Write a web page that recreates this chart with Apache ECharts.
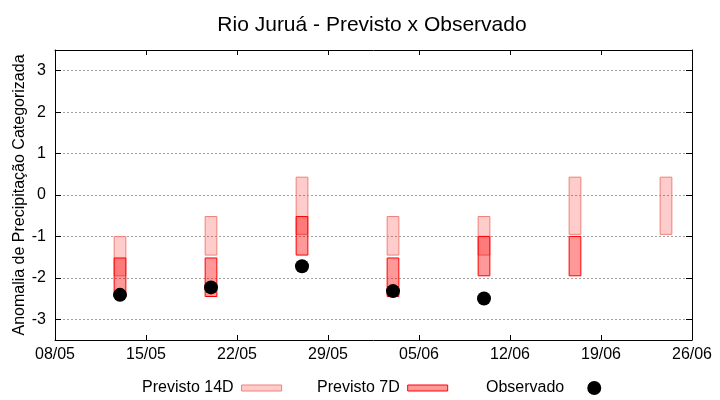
<!DOCTYPE html>
<html>
<head>
<meta charset="utf-8">
<script src="https://cdn.jsdelivr.net/npm/echarts@6/dist/echarts.min.js"></script>
<style>html,body{margin:0;padding:0;background:#fff}#c{width:720px;height:400px}</style>
</head>
<body>
<div id="c"></div>
<script>
// ---- data ----
const dates = ['2024-05-13','2024-05-20','2024-05-27','2024-06-03','2024-06-10','2024-06-17','2024-06-24'];
const p14Low  = [-1.95, -1.45, -0.95, -1.45, -1.45, -0.95, -0.95];
const p14High = [-1.00, -0.52,  0.43, -0.52, -0.52,  0.43,  0.43];
const p7Low   = [-2.45, -2.45, -1.45, -2.45, -1.95, -1.95, null];
const p7High  = [-1.52, -1.52, -0.52, -1.52, -1.00, -1.00, null];
const observed = [-2.41, -2.23, -1.72, -2.32, -2.50, null, null];
const axisStart = '2024-05-08';
const axisEnd = '2024-06-26';

const DAY = 86400000;
function parseDate(s){ const p = s.split('-').map(Number); return Date.UTC(p[0], p[1]-1, p[2]); }
const base = parseDate(axisStart);
const xs = dates.map(d => (parseDate(d) - base) / DAY);
const xMax = (parseDate(axisEnd) - base) / DAY;

function pad(n){ return (n < 10 ? '0' : '') + n; }
function fmtX(v){ const d = new Date(base + v * DAY); return pad(d.getUTCDate()) + '/' + pad(d.getUTCMonth() + 1); }

function boxData(lo, hi){
  const out = [];
  xs.forEach((x, i) => { if (lo[i] != null && hi[i] != null) out.push([x, lo[i], hi[i]]); });
  return out;
}
function boxRenderer(fill, stroke){
  return function(params, api){
    const x = api.value(0), lo = api.value(1), hi = api.value(2);
    const pt = api.coord([x, hi]);
    const pb = api.coord([x, lo]);
    const w = api.size([0.9, 0])[0];
    return {
      type: 'rect',
      shape: { x: pt[0] - w / 2, y: pt[1], width: w, height: pb[1] - pt[1] },
      style: { fill: fill, stroke: stroke, lineWidth: 1 }
    };
  };
}

const FILL14 = 'rgba(255,0,0,0.2)', STROKE14 = '#f08078';
const FILL7 = 'rgba(255,0,0,0.4)', STROKE7 = '#ff0000';
const FONT = 'Liberation Sans, Arial, sans-serif';

const obsData = [];
xs.forEach((x, i) => { if (observed[i] != null) obsData.push([x, observed[i]]); });

const chart = echarts.init(document.getElementById('c'), null, { renderer: 'canvas' });
const yCommon = { type: 'value', min: -3.5, max: 3.5, splitNumber: 7 };
const legendText = { fontFamily: FONT, fontSize: 16, color: '#000' };
chart.setOption({
  animation: false,
  backgroundColor: '#fff',
  title: {
    text: 'Rio Juruá - Previsto x Observado',
    left: 372, top: 15, textAlign: 'center', padding: 0,
    textStyle: { fontFamily: FONT, fontSize: 21, fontWeight: 'normal', color: '#000' }
  },
  grid: { left: 55, right: 28, top: 50, bottom: 60, containLabel: false, outerBoundsMode: 'none' },
  legend: [
    { data: [{ name: 'Previsto 14D', icon: 'rect', itemStyle: { color: FILL14, borderColor: STROKE14, borderWidth: 1 } }],
      left: 142, top: 380, padding: 0, itemWidth: 40, itemHeight: 6, align: 'right', selectedMode: false,
      textStyle: Object.assign({ padding: [0, 3, 0, 0] }, legendText) },
    { data: [{ name: 'Previsto 7D', icon: 'rect', itemStyle: { color: FILL7, borderColor: STROKE7, borderWidth: 1 } }],
      left: 317, top: 380, padding: 0, itemWidth: 40, itemHeight: 6, align: 'right', selectedMode: false,
      textStyle: Object.assign({ padding: [0, 3, 0, 0] }, legendText) },
    { data: [{ name: 'Observado', icon: 'circle', itemStyle: { color: '#000', opacity: 1 } }],
      left: 486, top: 380, padding: 0, itemWidth: 14, itemHeight: 14, align: 'right', selectedMode: false,
      textStyle: Object.assign({ padding: [0, 18, 0, 0] }, legendText) }
  ],
  xAxis: [
    { type: 'value', min: 0, max: xMax, interval: 7, position: 'bottom',
      axisLine: { show: true, onZero: false, lineStyle: { color: '#000', width: 1 } },
      axisTick: { show: true, inside: true, length: 5, lineStyle: { color: '#000' } },
      axisLabel: { formatter: fmtX, fontFamily: FONT, fontSize: 16, color: '#000', margin: 7, showMinLabel: true, showMaxLabel: true },
      splitLine: { show: false } },
    { type: 'value', min: 0, max: xMax, interval: 7, position: 'top',
      axisLine: { show: true, onZero: false, lineStyle: { color: '#000', width: 1 } },
      axisTick: { show: true, inside: true, length: 5, lineStyle: { color: '#000' } },
      axisLabel: { show: false }, splitLine: { show: false } }
  ],
  yAxis: [
    Object.assign({}, yCommon, {
      position: 'left',
      name: 'Anomalia de Precipitação Categorizada', nameLocation: 'middle', nameGap: 27,
      nameMoveOverlap: false,
      nameTextStyle: { fontFamily: FONT, fontSize: 16, color: '#000' },
      axisLine: { show: true, onZero: false, lineStyle: { color: '#000', width: 1 } },
      axisTick: { show: true, inside: true, length: 6, lineStyle: { color: '#000' } },
      axisLabel: { fontFamily: FONT, fontSize: 16, color: '#000', margin: 9,
        formatter: v => (Math.abs(v - Math.round(v)) < 1e-9 ? String(Math.round(v)) : '') },
      splitLine: { show: true, showMinLine: false, showMaxLine: false, lineStyle: { color: '#a0a0a0', type: [2, 2], width: 1 } }
    }),
    Object.assign({}, yCommon, {
      position: 'right',
      axisLine: { show: true, onZero: false, lineStyle: { color: '#000', width: 1 } },
      axisTick: { show: true, inside: true, length: 6, lineStyle: { color: '#000' } },
      axisLabel: { show: false }, splitLine: { show: false }
    })
  ],
  series: [
    { name: 'Previsto 14D', type: 'custom', xAxisIndex: 0, yAxisIndex: 0,
      renderItem: boxRenderer(FILL14, STROKE14), encode: { x: 0, y: [1, 2] },
      itemStyle: { color: FILL14, borderColor: STROKE14 }, data: boxData(p14Low, p14High), z: 2 },
    { name: 'Previsto 7D', type: 'custom', xAxisIndex: 0, yAxisIndex: 0,
      renderItem: boxRenderer(FILL7, STROKE7), encode: { x: 0, y: [1, 2] },
      itemStyle: { color: FILL7, borderColor: STROKE7 }, data: boxData(p7Low, p7High), z: 3 },
    { name: 'Observado', type: 'scatter', xAxisIndex: 0, yAxisIndex: 0,
      symbol: 'circle', symbolSize: 14, itemStyle: { color: '#000', opacity: 1 }, data: obsData, z: 4 }
  ]
});
</script>
</body>
</html>
